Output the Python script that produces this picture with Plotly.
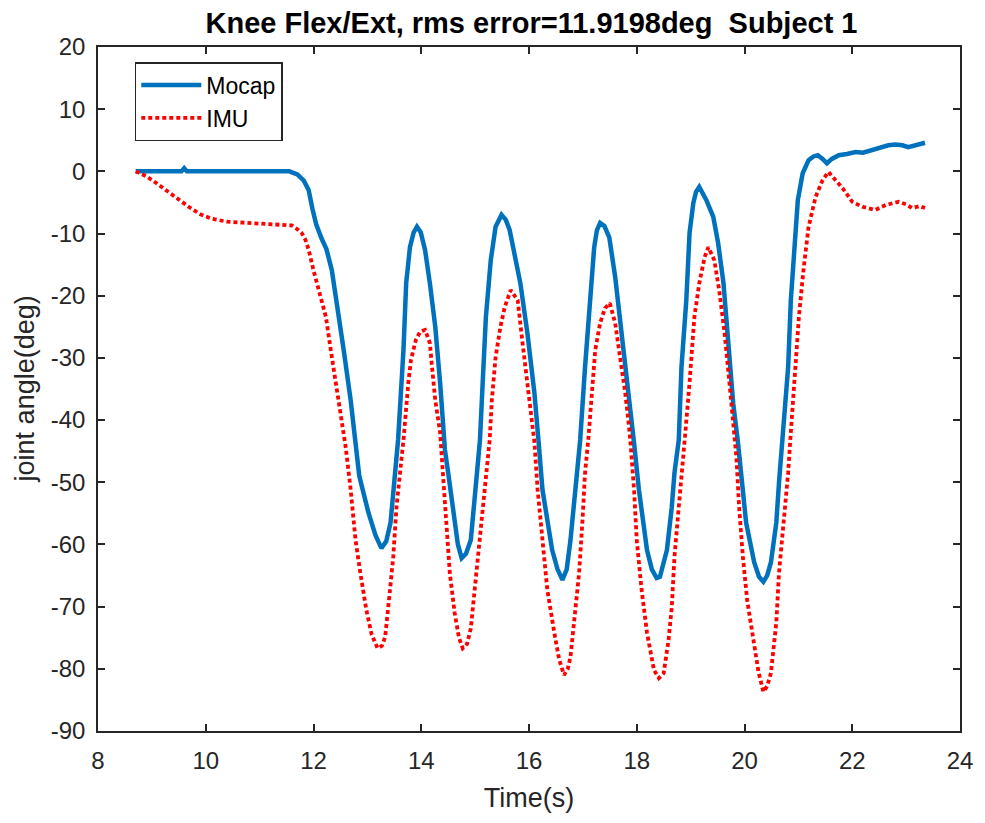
import plotly.graph_objects as go

# ---- data ----
mocap_t = [8.70, 9.55, 9.60, 9.65, 11.55, 11.70, 11.82, 11.91, 11.98, 12.05, 12.15, 12.24, 12.34, 12.43,
           12.56, 12.69, 12.78, 12.85, 13.02, 13.15, 13.26, 13.35, 13.43, 13.52, 13.57, 13.62, 13.67,
           13.72, 13.79, 13.86, 13.92, 13.99, 14.07, 14.16, 14.26, 14.35, 14.44, 14.50, 14.62, 14.68,
           14.75, 14.83, 14.92, 15.01, 15.09, 15.14, 15.20, 15.29, 15.38, 15.49, 15.57, 15.64, 15.75,
           15.84, 15.97, 16.10, 16.18, 16.25, 16.43, 16.53, 16.62, 16.70, 16.77, 16.86, 16.95, 17.04,
           17.12, 17.21, 17.26, 17.32, 17.40, 17.49, 17.60, 17.73, 17.85, 17.95, 18.04, 18.19, 18.28,
           18.37, 18.43, 18.56, 18.65, 18.70, 18.78, 18.83, 18.92, 18.98, 19.05, 19.10, 19.16, 19.29,
           19.42, 19.51, 19.61, 19.70, 19.79, 19.88, 19.93, 20.03, 20.18, 20.27, 20.35, 20.42, 20.49,
           20.59, 20.64, 20.70, 20.76, 20.81, 20.86, 20.92, 20.99, 21.08, 21.19, 21.28, 21.36, 21.45,
           21.53, 21.62, 21.75, 21.90, 22.06, 22.20, 22.38, 22.52, 22.67, 22.80, 22.93, 23.04, 23.20,
           23.35]
mocap_deg = [0.0, 0.0, 0.5, 0.0, 0.0, -0.5, -1.5, -3.0, -6.0, -8.5, -10.8, -12.5, -15.9, -20.7,
             -28.7, -36.8, -44.3, -49.0, -54.9, -58.5, -60.6, -59.5, -56.5, -48.5, -43.2, -36.0, -28.7,
             -18.0, -12.2, -9.8, -8.9, -9.8, -12.6, -18.0, -25.0, -34.0, -44.8, -48.5, -56.5, -60.0,
             -62.2, -61.5, -59.3, -51.2, -43.2, -34.0, -23.4, -14.3, -8.9, -7.0, -7.8, -9.4, -13.8,
             -18.0, -26.0, -35.6, -43.7, -51.2, -60.9, -64.0, -65.7, -64.0, -59.3, -51.2, -43.2, -31.5,
             -22.3, -12.2, -9.5, -8.3, -8.8, -10.6, -17.0, -26.6, -36.3, -43.7, -51.2, -60.9, -64.0,
             -65.4, -65.2, -60.9, -54.0, -48.5, -43.2, -31.5, -20.7, -9.9, -5.1, -3.3, -2.5, -4.6,
             -7.3, -11.5, -18.0, -27.6, -37.3, -43.7, -48.5, -56.5, -62.9, -65.2, -66.0, -65.0, -62.9,
             -56.5, -50.1, -43.2, -37.0, -31.5, -20.7, -12.6, -4.6, -0.3, 1.8, 2.4, 2.6, 2.0,
             1.3, 2.0, 2.6, 2.8, 3.1, 3.0, 3.4, 3.8, 4.2, 4.3, 4.2, 3.9, 4.2,
             4.6]

imu_t = [8.70, 8.90, 9.10, 9.30, 9.51, 9.70, 9.90, 10.10, 10.40, 10.80, 11.20, 11.45, 11.60, 11.70,
         11.78, 11.85, 11.91, 12.00, 12.10, 12.23, 12.32, 12.41, 12.50, 12.60, 12.69, 12.78, 12.87,
         12.98, 13.08, 13.19, 13.27, 13.33, 13.42, 13.48, 13.54, 13.61, 13.67, 13.76, 13.81, 13.90,
         13.98, 14.07, 14.16, 14.20, 14.26, 14.35, 14.40, 14.46, 14.53, 14.62, 14.70, 14.77, 14.85,
         14.92, 14.99, 15.09, 15.18, 15.27, 15.31, 15.38, 15.47, 15.55, 15.66, 15.79, 15.88, 15.97,
         16.06, 16.10, 16.16, 16.25, 16.34, 16.47, 16.56, 16.65, 16.72, 16.77, 16.84, 16.93, 16.99,
         17.04, 17.10, 17.15, 17.23, 17.32, 17.41, 17.50, 17.60, 17.69, 17.78, 17.85, 17.88, 17.95,
         18.00, 18.09, 18.19, 18.32, 18.41, 18.50, 18.59, 18.65, 18.70, 18.78, 18.83, 18.89, 18.98,
         19.07, 19.16, 19.26, 19.33, 19.44, 19.53, 19.63, 19.72, 19.81, 19.85, 19.90, 19.97, 20.05,
         20.16, 20.26, 20.35, 20.42, 20.49, 20.59, 20.64, 20.73, 20.81, 20.85, 20.92, 21.01, 21.10,
         21.19, 21.32, 21.45, 21.56, 21.70, 21.82, 22.00, 22.19, 22.43, 22.62, 22.86, 23.00, 23.11,
         23.25, 23.35]
imu_deg = [0.0, -0.8, -2.0, -3.3, -4.6, -5.8, -6.9, -7.6, -8.1, -8.3, -8.4, -8.5, -8.7, -9.3,
           -9.9, -11.0, -12.6, -15.9, -19.1, -23.4, -28.7, -34.0, -39.5, -44.5, -51.2, -59.3, -64.6,
           -70.5, -74.5, -76.7, -76.3, -74.9, -67.3, -62.0, -54.0, -48.5, -43.2, -34.0, -30.3, -27.1,
           -25.8, -25.5, -27.6, -31.5, -36.8, -42.0, -48.5, -56.5, -64.6, -71.0, -75.0, -76.7, -76.0,
           -73.5, -67.3, -59.3, -51.2, -43.2, -36.8, -29.9, -25.0, -21.8, -19.1, -20.7, -27.6, -34.0,
           -41.1, -43.5, -51.2, -59.3, -67.3, -74.2, -78.5, -81.0, -80.0, -78.1, -71.7, -64.6, -56.5,
           -48.5, -43.2, -36.8, -28.7, -24.4, -22.0, -21.2, -24.4, -29.9, -35.2, -40.5, -43.2, -51.2,
           -59.3, -67.3, -74.2, -80.2, -81.5, -80.7, -75.4, -70.1, -62.0, -54.0, -48.5, -43.2, -34.0,
           -23.4, -18.0, -13.8, -12.2, -14.3, -19.1, -26.0, -34.0, -42.1, -46.0, -54.0, -62.0, -69.0,
           -75.4, -80.5, -83.7, -82.8, -80.7, -72.6, -64.6, -56.5, -48.5, -43.2, -34.0, -23.4, -15.4,
           -8.9, -4.1, -1.4, -0.1, -1.5, -2.7, -4.9, -5.7, -6.2, -5.4, -4.9, -5.3, -5.9,
           -5.6, -5.9]

x_ticks = [8, 10, 12, 14, 16, 18, 20, 22, 24]
y_ticks = [-90, -80, -70, -60, -50, -40, -30, -20, -10, 0, 10, 20]

title_text = "Knee Flex/Ext, rms error=11.9198deg\u00a0 Subject 1"
x_label = "Time(s)"
y_label = "joint angle(deg)"

FONT = "Liberation Sans, Arial, Helvetica, sans-serif"
AX = "#262626"

# plot area in pixels: x 98..965, y 47..731
L, R, T, B = 98, 965, 47, 731
W, H = 985, 823

fig = go.Figure()
fig.add_trace(go.Scatter(x=mocap_t, y=mocap_deg, mode="lines", name="Mocap",
                         line=dict(color="#0072BD", width=4.5)))
fig.add_trace(go.Scatter(x=imu_t, y=imu_deg, mode="lines", name="IMU",
                         line=dict(color="#FF0000", width=3.8, dash="4px,3px")))

axis_common = dict(
    showgrid=False, zeroline=False, showline=True, linecolor=AX, linewidth=1.5,
    mirror="ticks", ticks="inside", ticklen=7, tickwidth=1.5, tickcolor=AX,
    tickfont=dict(family=FONT, size=24, color=AX),
)

fig.update_layout(
    width=W, height=H,
    margin=dict(l=L, r=W - R, t=T, b=H - B),
    paper_bgcolor="white", plot_bgcolor="white",
    title=dict(text="<b>" + title_text + "</b>", x=(L + R) / 2 / W, xanchor="center",
               y=1 - 23 / H, yanchor="middle", yref="container",
               font=dict(family=FONT, size=29, color="#000000")),
    xaxis=dict(range=[8, 24], tickvals=x_ticks, ticktext=[str(v) for v in x_ticks],
               title=dict(text=x_label, font=dict(family=FONT, size=27, color=AX), standoff=16),
               ticklabelstandoff=7, **axis_common),
    yaxis=dict(range=[-90, 20], tickvals=y_ticks, ticktext=[str(v) for v in y_ticks],
               ticklabelstandoff=6, **axis_common),
    annotations=[dict(text=y_label, xref="paper", yref="paper",
                      x=(25 - L) / (R - L), y=(B - 389) / (B - T),
                      xanchor="center", yanchor="middle", textangle=-90, showarrow=False,
                      font=dict(family=FONT, size=27, color=AX))],
    legend=dict(x=(135 - L) / (R - L), y=(B - 62) / (B - T), xanchor="left", yanchor="top",
                bgcolor="white", bordercolor=AX, borderwidth=1.5,
                font=dict(family=FONT, size=23, color="#000000"),
                tracegroupgap=0, itemwidth=60),
    showlegend=True,
)

fig.write_html("out.html")
